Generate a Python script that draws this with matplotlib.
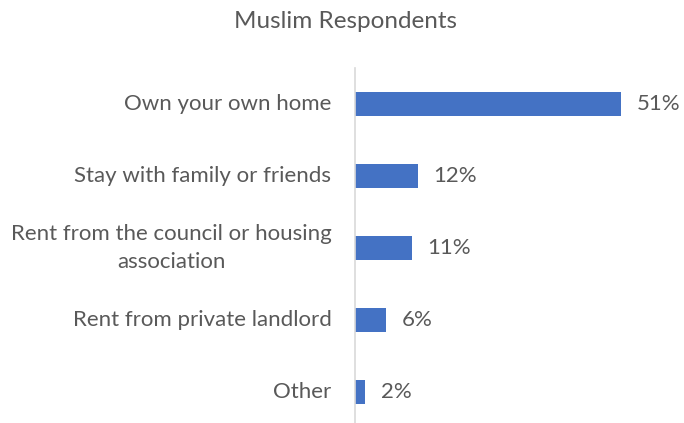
import matplotlib.pyplot as plt

plt.rcParams['font.family'] = ['Lato', 'DejaVu Sans']

categories = ['Own your own home', 'Stay with family or friends',
              'Rent from the council or housing\nassociation',
              'Rent from private landlord', 'Other']
values = [51, 12, 11, 6, 2]
value_labels = ['51%', '12%', '11%', '6%', '2%']

text_col = '#595959'

fig = plt.figure(figsize=(6.84, 4.23), dpi=100)
ax = fig.add_axes([355 / 684, 0, 313 / 684, 355 / 423])

ypos = list(range(len(categories)))
ax.barh(ypos, values, height=0.34, color='#4472C4')
ax.set_ylim(4.43, -0.5)
ax.set_xlim(0, 60)

for y, v, lab in zip(ypos, values, value_labels):
    ax.annotate(lab, (v, y), xytext=(11, 0), textcoords='offset points',
                va='center', ha='left', fontsize=16, color=text_col)

# category labels, right-aligned against the axis, multiline centred
for y, cat in zip(ypos, categories):
    ax.annotate(cat, (0, y), xytext=(-17, 0), textcoords='offset points',
                va='center', ha='right', multialignment='center',
                fontsize=16, color=text_col, linespacing=1.5)

ax.set_yticks([])
ax.set_xticks([])
for s in ['top', 'right', 'bottom']:
    ax.spines[s].set_visible(False)
ax.spines['left'].set_color('#D9D9D9')
ax.spines['left'].set_linewidth(1.2)

fig.text(345 / 684, 1 - 21 / 423, 'Muslim Respondents', ha='center', va='center',
         fontsize=17.5, color=text_col)

plt.savefig('out.png', dpi=100)
